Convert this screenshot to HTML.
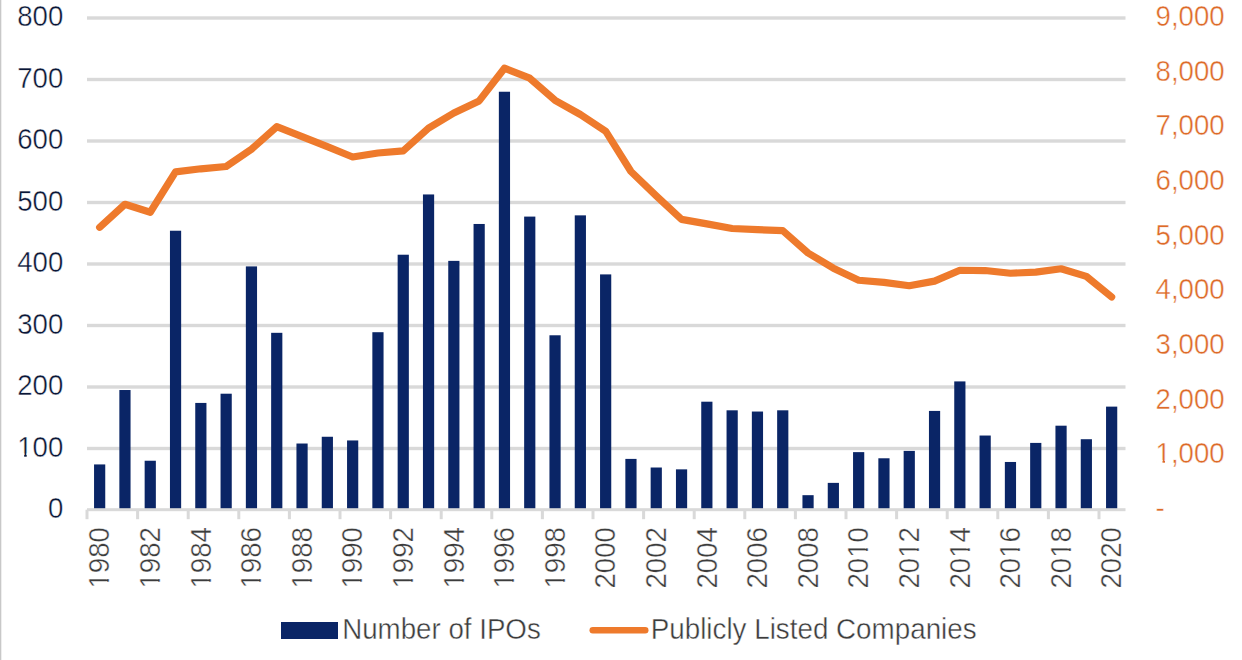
<!DOCTYPE html>
<html><head><meta charset="utf-8"><style>
html,body{margin:0;padding:0;background:#fff;width:1242px;height:660px;overflow:hidden}
svg{display:block}
text{font-family:"Liberation Sans",sans-serif;font-size:28px;stroke:#fff;stroke-width:0.4px}
</style></head><body>
<svg width="1242" height="660" viewBox="0 0 1242 660">
<rect x="0" y="0" width="1242" height="660" fill="#fff"/>
<rect x="0" y="0" width="1.3" height="660" fill="#c8c8c8"/>
<rect x="87.0" y="446.80" width="1038.50" height="3.4" fill="#D9D9D9"/>
<rect x="87.0" y="385.30" width="1038.50" height="3.4" fill="#D9D9D9"/>
<rect x="87.0" y="323.80" width="1038.50" height="3.4" fill="#D9D9D9"/>
<rect x="87.0" y="262.30" width="1038.50" height="3.4" fill="#D9D9D9"/>
<rect x="87.0" y="200.80" width="1038.50" height="3.4" fill="#D9D9D9"/>
<rect x="87.0" y="139.30" width="1038.50" height="3.4" fill="#D9D9D9"/>
<rect x="87.0" y="77.80" width="1038.50" height="3.4" fill="#D9D9D9"/>
<rect x="87.0" y="16.30" width="1038.50" height="3.4" fill="#D9D9D9"/>
<rect x="94.05" y="464.43" width="11.2" height="45.27" fill="#0a2566"/>
<rect x="119.35" y="390.02" width="11.2" height="119.68" fill="#0a2566"/>
<rect x="144.65" y="460.74" width="11.2" height="48.96" fill="#0a2566"/>
<rect x="169.95" y="230.73" width="11.2" height="278.97" fill="#0a2566"/>
<rect x="195.25" y="402.93" width="11.2" height="106.77" fill="#0a2566"/>
<rect x="220.55" y="393.71" width="11.2" height="115.99" fill="#0a2566"/>
<rect x="245.85" y="266.40" width="11.2" height="243.30" fill="#0a2566"/>
<rect x="271.15" y="332.82" width="11.2" height="176.88" fill="#0a2566"/>
<rect x="296.45" y="443.52" width="11.2" height="66.18" fill="#0a2566"/>
<rect x="321.75" y="436.76" width="11.2" height="72.94" fill="#0a2566"/>
<rect x="347.05" y="440.45" width="11.2" height="69.25" fill="#0a2566"/>
<rect x="372.35" y="332.21" width="11.2" height="177.49" fill="#0a2566"/>
<rect x="397.65" y="254.72" width="11.2" height="254.98" fill="#0a2566"/>
<rect x="422.95" y="194.45" width="11.2" height="315.25" fill="#0a2566"/>
<rect x="448.25" y="260.87" width="11.2" height="248.83" fill="#0a2566"/>
<rect x="473.55" y="223.97" width="11.2" height="285.73" fill="#0a2566"/>
<rect x="498.85" y="91.74" width="11.2" height="417.96" fill="#0a2566"/>
<rect x="524.15" y="216.59" width="11.2" height="293.11" fill="#0a2566"/>
<rect x="549.45" y="335.28" width="11.2" height="174.42" fill="#0a2566"/>
<rect x="574.75" y="215.36" width="11.2" height="294.34" fill="#0a2566"/>
<rect x="600.05" y="274.40" width="11.2" height="235.30" fill="#0a2566"/>
<rect x="625.35" y="458.90" width="11.2" height="50.80" fill="#0a2566"/>
<rect x="650.65" y="467.51" width="11.2" height="42.19" fill="#0a2566"/>
<rect x="675.95" y="469.35" width="11.2" height="40.35" fill="#0a2566"/>
<rect x="701.25" y="401.70" width="11.2" height="108.00" fill="#0a2566"/>
<rect x="726.55" y="410.31" width="11.2" height="99.39" fill="#0a2566"/>
<rect x="751.85" y="411.54" width="11.2" height="98.16" fill="#0a2566"/>
<rect x="777.15" y="410.31" width="11.2" height="99.39" fill="#0a2566"/>
<rect x="802.45" y="495.18" width="11.2" height="14.52" fill="#0a2566"/>
<rect x="827.75" y="482.88" width="11.2" height="26.81" fill="#0a2566"/>
<rect x="853.05" y="452.13" width="11.2" height="57.56" fill="#0a2566"/>
<rect x="878.35" y="458.28" width="11.2" height="51.42" fill="#0a2566"/>
<rect x="903.65" y="450.90" width="11.2" height="58.80" fill="#0a2566"/>
<rect x="928.95" y="410.93" width="11.2" height="98.77" fill="#0a2566"/>
<rect x="954.25" y="381.41" width="11.2" height="128.29" fill="#0a2566"/>
<rect x="979.55" y="435.53" width="11.2" height="74.17" fill="#0a2566"/>
<rect x="1004.85" y="461.97" width="11.2" height="47.73" fill="#0a2566"/>
<rect x="1030.15" y="442.91" width="11.2" height="66.79" fill="#0a2566"/>
<rect x="1055.45" y="425.69" width="11.2" height="84.01" fill="#0a2566"/>
<rect x="1080.75" y="439.22" width="11.2" height="70.48" fill="#0a2566"/>
<rect x="1106.05" y="406.62" width="11.2" height="103.07" fill="#0a2566"/>
<rect x="87.0" y="508.20" width="1038.50" height="3" fill="#D9D9D9"/>
<rect x="85.50" y="509.70" width="3" height="9.5" fill="#D9D9D9"/>
<rect x="136.10" y="509.70" width="3" height="9.5" fill="#D9D9D9"/>
<rect x="186.70" y="509.70" width="3" height="9.5" fill="#D9D9D9"/>
<rect x="237.30" y="509.70" width="3" height="9.5" fill="#D9D9D9"/>
<rect x="287.90" y="509.70" width="3" height="9.5" fill="#D9D9D9"/>
<rect x="338.50" y="509.70" width="3" height="9.5" fill="#D9D9D9"/>
<rect x="389.10" y="509.70" width="3" height="9.5" fill="#D9D9D9"/>
<rect x="439.70" y="509.70" width="3" height="9.5" fill="#D9D9D9"/>
<rect x="490.30" y="509.70" width="3" height="9.5" fill="#D9D9D9"/>
<rect x="540.90" y="509.70" width="3" height="9.5" fill="#D9D9D9"/>
<rect x="591.50" y="509.70" width="3" height="9.5" fill="#D9D9D9"/>
<rect x="642.10" y="509.70" width="3" height="9.5" fill="#D9D9D9"/>
<rect x="692.70" y="509.70" width="3" height="9.5" fill="#D9D9D9"/>
<rect x="743.30" y="509.70" width="3" height="9.5" fill="#D9D9D9"/>
<rect x="793.90" y="509.70" width="3" height="9.5" fill="#D9D9D9"/>
<rect x="844.50" y="509.70" width="3" height="9.5" fill="#D9D9D9"/>
<rect x="895.10" y="509.70" width="3" height="9.5" fill="#D9D9D9"/>
<rect x="945.70" y="509.70" width="3" height="9.5" fill="#D9D9D9"/>
<rect x="996.30" y="509.70" width="3" height="9.5" fill="#D9D9D9"/>
<rect x="1046.90" y="509.70" width="3" height="9.5" fill="#D9D9D9"/>
<rect x="1097.50" y="509.70" width="3" height="9.5" fill="#D9D9D9"/>
<polyline points="99.65,227.29 124.95,204.28 150.25,212.26 175.55,171.81 200.85,168.80 226.15,166.50 251.45,149.28 276.75,126.71 302.05,136.71 327.35,146.66 352.65,156.99 377.95,153.00 403.25,150.87 428.55,128.18 453.85,112.98 479.15,100.90 504.45,68.21 529.75,78.22 555.05,100.30 580.35,114.51 605.65,131.19 630.95,171.48 656.25,195.80 681.55,219.37 706.85,223.85 732.15,228.49 757.45,229.70 782.75,230.57 808.05,252.99 833.35,268.18 858.65,280.26 883.95,282.34 909.25,285.73 934.55,281.14 959.85,270.26 985.15,270.53 1010.45,273.27 1035.75,272.06 1061.05,268.78 1086.35,276.38 1111.65,296.94" fill="none" stroke="#EE7A2C" stroke-width="7.2" stroke-linejoin="round" stroke-linecap="round"/>
<g transform="translate(47.96,518.05) scale(0.985,1.045)"><text x="0" y="0" fill="#0a1636">0</text></g>
<g transform="translate(17.28,456.55) scale(0.985,1.045)"><text x="0" y="0" fill="#0a1636">100</text><rect x="0.82" y="-3.28" width="6.18" height="5.47" fill="#fff"/><rect x="9.56" y="-3.28" width="5.89" height="5.47" fill="#fff"/></g>
<g transform="translate(17.28,395.05) scale(0.985,1.045)"><text x="0" y="0" fill="#0a1636">200</text></g>
<g transform="translate(17.28,333.55) scale(0.985,1.045)"><text x="0" y="0" fill="#0a1636">300</text></g>
<g transform="translate(17.28,272.05) scale(0.985,1.045)"><text x="0" y="0" fill="#0a1636">400</text></g>
<g transform="translate(17.28,210.55) scale(0.985,1.045)"><text x="0" y="0" fill="#0a1636">500</text></g>
<g transform="translate(17.28,149.05) scale(0.985,1.045)"><text x="0" y="0" fill="#0a1636">600</text></g>
<g transform="translate(17.28,87.55) scale(0.985,1.045)"><text x="0" y="0" fill="#0a1636">700</text></g>
<g transform="translate(17.28,26.05) scale(0.985,1.045)"><text x="0" y="0" fill="#0a1636">800</text></g>
<g transform="translate(1155.6,518.05) scale(0.985,1.045)"><text x="0" y="0" fill="#DD6A28">-</text></g>
<g transform="translate(1155.6,463.38) scale(0.985,1.045)"><text x="0" y="0" fill="#DD6A28">1,000</text><rect x="0.82" y="-3.28" width="6.18" height="5.47" fill="#fff"/><rect x="9.56" y="-3.28" width="5.89" height="5.47" fill="#fff"/></g>
<g transform="translate(1155.6,408.72) scale(0.985,1.045)"><text x="0" y="0" fill="#DD6A28">2,000</text></g>
<g transform="translate(1155.6,354.05) scale(0.985,1.045)"><text x="0" y="0" fill="#DD6A28">3,000</text></g>
<g transform="translate(1155.6,299.38) scale(0.985,1.045)"><text x="0" y="0" fill="#DD6A28">4,000</text></g>
<g transform="translate(1155.6,244.72) scale(0.985,1.045)"><text x="0" y="0" fill="#DD6A28">5,000</text></g>
<g transform="translate(1155.6,190.05) scale(0.985,1.045)"><text x="0" y="0" fill="#DD6A28">6,000</text></g>
<g transform="translate(1155.6,135.38) scale(0.985,1.045)"><text x="0" y="0" fill="#DD6A28">7,000</text></g>
<g transform="translate(1155.6,80.72) scale(0.985,1.045)"><text x="0" y="0" fill="#DD6A28">8,000</text></g>
<g transform="translate(1155.6,26.05) scale(0.985,1.045)"><text x="0" y="0" fill="#DD6A28">9,000</text></g>
<g transform="translate(109.34,527.00) rotate(-90) scale(1,1.045)"><text x="-61.62" y="0" fill="#3c3c3c" style="font-size:27.7px">1980</text><rect x="-60.81" y="-3.25" width="6.11" height="5.41" fill="#fff"/><rect x="-52.17" y="-3.25" width="5.83" height="5.41" fill="#fff"/></g>
<g transform="translate(159.94,527.00) rotate(-90) scale(1,1.045)"><text x="-61.62" y="0" fill="#3c3c3c" style="font-size:27.7px">1982</text><rect x="-60.81" y="-3.25" width="6.11" height="5.41" fill="#fff"/><rect x="-52.17" y="-3.25" width="5.83" height="5.41" fill="#fff"/></g>
<g transform="translate(210.54,527.00) rotate(-90) scale(1,1.045)"><text x="-61.62" y="0" fill="#3c3c3c" style="font-size:27.7px">1984</text><rect x="-60.81" y="-3.25" width="6.11" height="5.41" fill="#fff"/><rect x="-52.17" y="-3.25" width="5.83" height="5.41" fill="#fff"/></g>
<g transform="translate(261.14,527.00) rotate(-90) scale(1,1.045)"><text x="-61.62" y="0" fill="#3c3c3c" style="font-size:27.7px">1986</text><rect x="-60.81" y="-3.25" width="6.11" height="5.41" fill="#fff"/><rect x="-52.17" y="-3.25" width="5.83" height="5.41" fill="#fff"/></g>
<g transform="translate(311.74,527.00) rotate(-90) scale(1,1.045)"><text x="-61.62" y="0" fill="#3c3c3c" style="font-size:27.7px">1988</text><rect x="-60.81" y="-3.25" width="6.11" height="5.41" fill="#fff"/><rect x="-52.17" y="-3.25" width="5.83" height="5.41" fill="#fff"/></g>
<g transform="translate(362.34,527.00) rotate(-90) scale(1,1.045)"><text x="-61.62" y="0" fill="#3c3c3c" style="font-size:27.7px">1990</text><rect x="-60.81" y="-3.25" width="6.11" height="5.41" fill="#fff"/><rect x="-52.17" y="-3.25" width="5.83" height="5.41" fill="#fff"/></g>
<g transform="translate(412.94,527.00) rotate(-90) scale(1,1.045)"><text x="-61.62" y="0" fill="#3c3c3c" style="font-size:27.7px">1992</text><rect x="-60.81" y="-3.25" width="6.11" height="5.41" fill="#fff"/><rect x="-52.17" y="-3.25" width="5.83" height="5.41" fill="#fff"/></g>
<g transform="translate(463.54,527.00) rotate(-90) scale(1,1.045)"><text x="-61.62" y="0" fill="#3c3c3c" style="font-size:27.7px">1994</text><rect x="-60.81" y="-3.25" width="6.11" height="5.41" fill="#fff"/><rect x="-52.17" y="-3.25" width="5.83" height="5.41" fill="#fff"/></g>
<g transform="translate(514.14,527.00) rotate(-90) scale(1,1.045)"><text x="-61.62" y="0" fill="#3c3c3c" style="font-size:27.7px">1996</text><rect x="-60.81" y="-3.25" width="6.11" height="5.41" fill="#fff"/><rect x="-52.17" y="-3.25" width="5.83" height="5.41" fill="#fff"/></g>
<g transform="translate(564.74,527.00) rotate(-90) scale(1,1.045)"><text x="-61.62" y="0" fill="#3c3c3c" style="font-size:27.7px">1998</text><rect x="-60.81" y="-3.25" width="6.11" height="5.41" fill="#fff"/><rect x="-52.17" y="-3.25" width="5.83" height="5.41" fill="#fff"/></g>
<g transform="translate(615.34,527.00) rotate(-90) scale(1,1.045)"><text x="-61.62" y="0" fill="#3c3c3c" style="font-size:27.7px">2000</text></g>
<g transform="translate(665.94,527.00) rotate(-90) scale(1,1.045)"><text x="-61.62" y="0" fill="#3c3c3c" style="font-size:27.7px">2002</text></g>
<g transform="translate(716.54,527.00) rotate(-90) scale(1,1.045)"><text x="-61.62" y="0" fill="#3c3c3c" style="font-size:27.7px">2004</text></g>
<g transform="translate(767.14,527.00) rotate(-90) scale(1,1.045)"><text x="-61.62" y="0" fill="#3c3c3c" style="font-size:27.7px">2006</text></g>
<g transform="translate(817.74,527.00) rotate(-90) scale(1,1.045)"><text x="-61.62" y="0" fill="#3c3c3c" style="font-size:27.7px">2008</text></g>
<g transform="translate(868.34,527.00) rotate(-90) scale(1,1.045)"><text x="-61.62" y="0" fill="#3c3c3c" style="font-size:27.7px">2010</text><rect x="-30.00" y="-3.25" width="6.11" height="5.41" fill="#fff"/><rect x="-21.36" y="-3.25" width="5.83" height="5.41" fill="#fff"/></g>
<g transform="translate(918.94,527.00) rotate(-90) scale(1,1.045)"><text x="-61.62" y="0" fill="#3c3c3c" style="font-size:27.7px">2012</text><rect x="-30.00" y="-3.25" width="6.11" height="5.41" fill="#fff"/><rect x="-21.36" y="-3.25" width="5.83" height="5.41" fill="#fff"/></g>
<g transform="translate(969.54,527.00) rotate(-90) scale(1,1.045)"><text x="-61.62" y="0" fill="#3c3c3c" style="font-size:27.7px">2014</text><rect x="-30.00" y="-3.25" width="6.11" height="5.41" fill="#fff"/><rect x="-21.36" y="-3.25" width="5.83" height="5.41" fill="#fff"/></g>
<g transform="translate(1020.14,527.00) rotate(-90) scale(1,1.045)"><text x="-61.62" y="0" fill="#3c3c3c" style="font-size:27.7px">2016</text><rect x="-30.00" y="-3.25" width="6.11" height="5.41" fill="#fff"/><rect x="-21.36" y="-3.25" width="5.83" height="5.41" fill="#fff"/></g>
<g transform="translate(1070.74,527.00) rotate(-90) scale(1,1.045)"><text x="-61.62" y="0" fill="#3c3c3c" style="font-size:27.7px">2018</text><rect x="-30.00" y="-3.25" width="6.11" height="5.41" fill="#fff"/><rect x="-21.36" y="-3.25" width="5.83" height="5.41" fill="#fff"/></g>
<g transform="translate(1121.34,527.00) rotate(-90) scale(1,1.045)"><text x="-61.62" y="0" fill="#3c3c3c" style="font-size:27.7px">2020</text></g>
<rect x="281" y="622" width="57" height="17" fill="#0a2566"/>
<g transform="translate(342.2,638.8) scale(1,1.045)"><text x="0" y="0" fill="#3c3c3c" style="font-size:27.7px">Number of IPOs</text></g>
<line x1="592.8" y1="630.2" x2="645.2" y2="630.2" stroke="#EE7A2C" stroke-width="6.6" stroke-linecap="round"/>
<g transform="translate(650.7,638.8) scale(1,1.045)"><text x="0" y="0" fill="#3c3c3c" style="font-size:27.8px">Publicly Listed Companies</text></g>
</svg>
</body></html>
